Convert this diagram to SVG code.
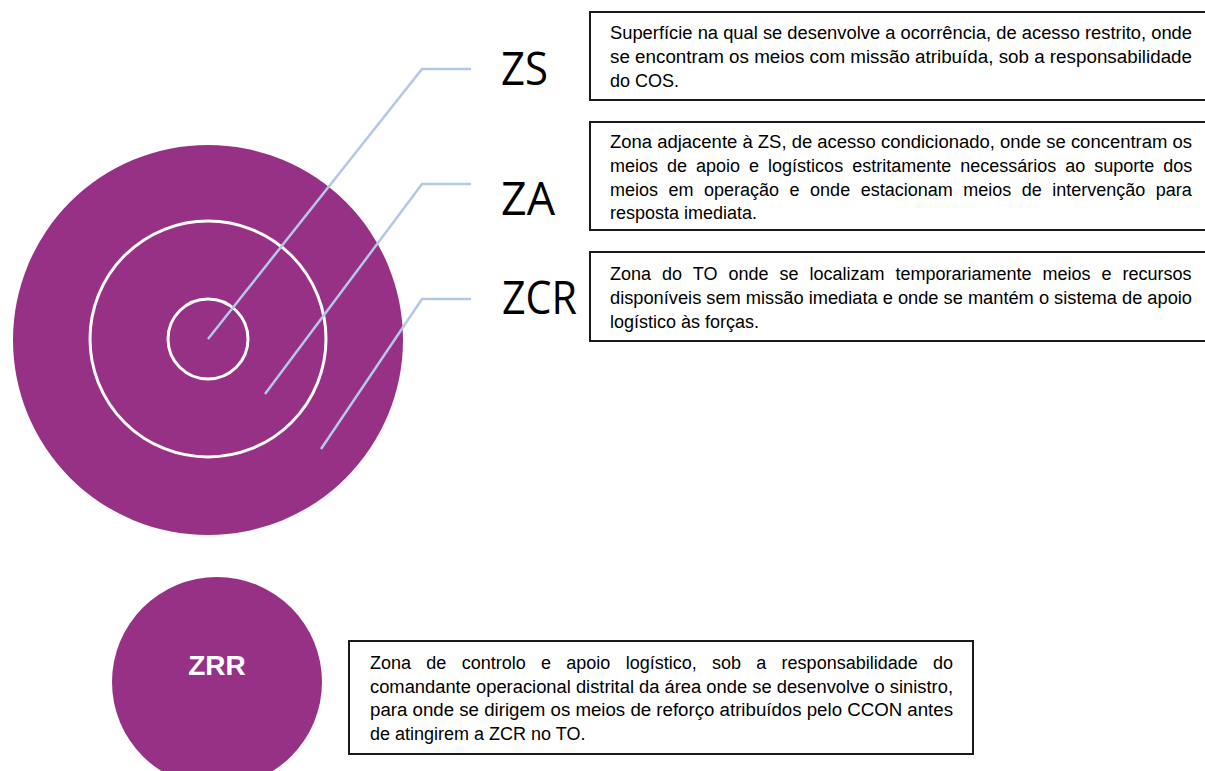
<svg xmlns="http://www.w3.org/2000/svg" width="1205" height="771" viewBox="0 0 1205 771">
<style>
.bg{fill:#ffffff}
.disc{fill:#973185}
.ring{fill:none;stroke:#ffffff;stroke-width:3}
.lead{fill:none;stroke:#b4c7e7;stroke-width:2.5;stroke-linejoin:miter}
.box{fill:#ffffff;stroke:#1a1a1a;stroke-width:2}
.desc{font-family:"Liberation Sans",Arial,sans-serif;font-size:18px;fill:#000000}
.big{font-family:"Open Sans","Liberation Sans",sans-serif;font-size:46px;fill:#000000}
.zrr{font-family:"Liberation Sans",Arial,sans-serif;font-size:28px;font-weight:bold;fill:#ffffff}
</style>
<rect class="bg" x="0" y="0" width="1205" height="771"/>

<g id="zones">
  <circle class="disc" cx="208" cy="340" r="195"/>
  <circle class="ring" cx="208" cy="339" r="118"/>
  <circle class="ring" cx="208" cy="339" r="40"/>
</g>

<g id="connectors">
  <polyline class="lead" points="208,339 422,69 471,69"/>
  <polyline class="lead" points="265,394 422,184 471,184"/>
  <polyline class="lead" points="321,449 422,299 471,299"/>
</g>

<g id="label-zs"><text class="big" x="501" y="85" textLength="47" lengthAdjust="spacingAndGlyphs">ZS</text></g>
<g id="label-za"><text class="big" x="501" y="215" textLength="54" lengthAdjust="spacingAndGlyphs">ZA</text></g>
<g id="label-zcr"><text class="big" x="502" y="314" textLength="75" lengthAdjust="spacingAndGlyphs">ZCR</text></g>

<g id="box-zs">
  <rect class="box" x="590" y="12" width="630" height="88"/>
  <text class="desc" x="610" y="39" textLength="582" lengthAdjust="spacingAndGlyphs">Superfície na qual se desenvolve a ocorrência, de acesso restrito, onde</text>
  <text class="desc" x="610" y="63" textLength="582" lengthAdjust="spacingAndGlyphs">se encontram os meios com missão atribuída, sob a responsabilidade</text>
  <text class="desc" x="610" y="87">do COS.</text>
</g>

<g id="box-za">
  <rect class="box" x="590" y="122" width="630" height="108"/>
  <text class="desc" x="610" y="148" textLength="582" lengthAdjust="spacingAndGlyphs">Zona adjacente à ZS, de acesso condicionado, onde se concentram os</text>
  <text class="desc" x="610" y="172" word-spacing="4">meios de apoio e logísticos estritamente necessários ao suporte dos</text>
  <text class="desc" x="610" y="196" word-spacing="5.5">meios em operação e onde estacionam meios de intervenção para</text>
  <text class="desc" x="610" y="219">resposta imediata.</text>
</g>

<g id="box-zcr">
  <rect class="box" x="590" y="252" width="630" height="89"/>
  <text class="desc" x="610" y="280" word-spacing="6">Zona do TO onde se localizam temporariamente meios e recursos</text>
  <text class="desc" x="610" y="304" textLength="582" lengthAdjust="spacingAndGlyphs">disponíveis sem missão imediata e onde se mantém o sistema de apoio</text>
  <text class="desc" x="610" y="328">logístico às forças.</text>
</g>

<g id="zrr">
  <circle class="disc" cx="217" cy="682" r="105"/>
  <text class="zrr" x="217" y="675" text-anchor="middle">ZRR</text>
</g>

<g id="box-zrr">
  <rect class="box" x="349" y="641" width="624" height="113"/>
  <text class="desc" x="370" y="669" word-spacing="10.3">Zona de controlo e apoio logístico, sob a responsabilidade do</text>
  <text class="desc" x="370" y="693" textLength="583" lengthAdjust="spacingAndGlyphs">comandante operacional distrital da área onde se desenvolve o sinistro,</text>
  <text class="desc" x="370" y="716" textLength="583" lengthAdjust="spacingAndGlyphs">para onde se dirigem os meios de reforço atribuídos pelo CCON antes</text>
  <text class="desc" x="370" y="740">de atingirem a ZCR no TO.</text>
</g>
</svg>
